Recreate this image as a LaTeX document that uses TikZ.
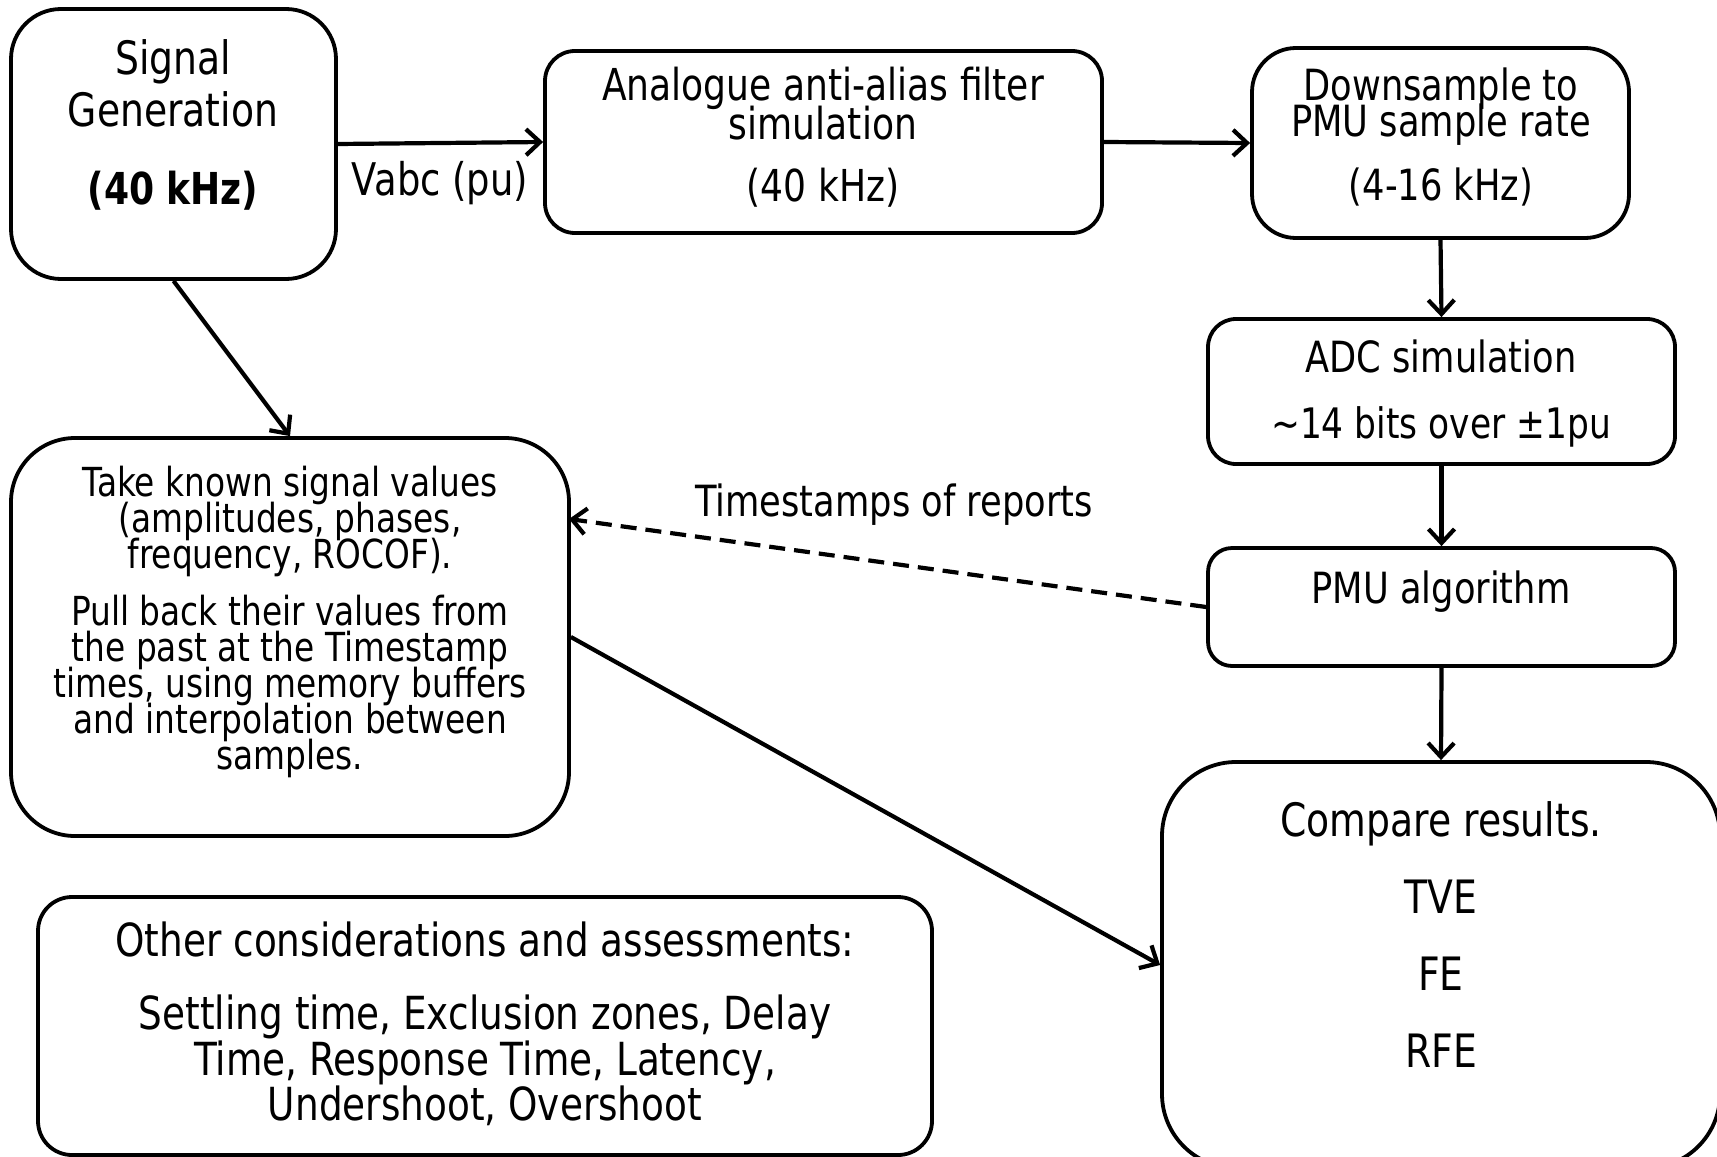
\documentclass[tikz,border=0pt]{standalone}
\usepackage{fontspec}
\setmainfont{DejaVu Sans}[FakeStretch=0.82]
\usetikzlibrary{arrows.meta,fit}
\begin{document}
\begin{tikzpicture}[x=0.5pt,y=-0.5pt,
  box/.style={draw, line width=1.9pt, inner sep=0pt},
  arr/.style={line width=2.1pt, -{Straight Barb[length=7pt,width=13pt]}},
  dasharr/.style={arr, dash pattern=on 8pt off 4.5pt},
  txt/.style={align=center, inner sep=0pt},
  fA/.style={font={\fontsize{23pt}{26pt}\selectfont\lineskiplimit-100pt}},
  fB/.style={font={\fontsize{22pt}{19.5pt}\selectfont\lineskiplimit-100pt}},
  fC/.style={font={\fontsize{21.5pt}{18pt}\selectfont\lineskiplimit-100pt}},
  fD/.style={font={\fontsize{21.5pt}{20pt}\selectfont\lineskiplimit-100pt}},
  fE/.style={font={\fontsize{23pt}{38.5pt}\selectfont\lineskiplimit-100pt}},
  fF/.style={font={\fontsize{20pt}{18pt}\selectfont\lineskiplimit-100pt}},
  fG/.style={font={\fontsize{22.8pt}{22.75pt}\selectfont\lineskiplimit-100pt}},
  fH/.style={font={\fontsize{22.5pt}{20pt}\selectfont}}]
\useasboundingbox (0,0) rectangle (1717,1156);
\clip (0,0) rectangle (1717,1156);
\fill[white] (0,0) rectangle (1717,1156);

% boxes
\node[box, rounded corners=25pt, fit={(11,9)(336,279)}] (sg) {};
\node[box, rounded corners=15pt, fit={(545,51)(1102,233)}] (filt) {};
\node[box, rounded corners=22pt, fit={(1252,48)(1629,238)}] (ds) {};
\node[box, rounded corners=14pt, fit={(1208,319)(1675,464)}] (adc) {};
\node[box, rounded corners=12pt, fit={(1208,548)(1675,666)}] (pmu) {};
\node[box, rounded corners=37pt, fit={(1162,762)(1720,1168)}] (cmp) {};
\node[box, rounded corners=32pt, fit={(11,438)(569,836)}] (take) {};
\node[box, rounded corners=17pt, fit={(38,897)(932,1155)}] (oth) {};

% texts
\node[txt, fA] (sgT) at (173,125) {Signal\\Generation\\[13pt]{\fontsize{22pt}{26pt}\selectfont\bfseries (40 kHz)}};
\node[txt, fB] (filtT) at (823,137) {Analogue anti-alias filter\\simulation\\[11.5pt](40 kHz)};
\node[txt, fC] (dsT) at (1441,137) {Downsample to\\PMU sample rate\\[14pt](4-16 kHz)};
\node[txt, fD] (adcT) at (1441,394) {ADC simulation\\[13pt]{\fontsize{21pt}{20pt}\selectfont\textasciitilde 14 bits over ±1pu}};
\node[txt, fD] (pmuT) at (1441,592) {PMU algorithm};
\node[txt, fE] (cmpT) at (1441,935) {Compare results.\\TVE\\FE\\RFE};
\node[txt, fF] (takeT) at (290,622) {Take known signal values\\(amplitudes, phases,\\frequency, ROCOF).\\[10.5pt]Pull back their values from\\the past at the Timestamp\\times, using memory buffers\\and interpolation between\\samples.};
\node[txt, fG] (othT) at (485,1024) {Other considerations and assessments:\\[13.75pt]Settling time, Exclusion zones, Delay\\Time, Response Time, Latency,\\Undershoot, Overshoot};
\node[txt, fH] (vabc) at (440,183) {Vabc (pu)};
\node[txt, fD] (tsl) at (894,505) {Timestamps of reports};

% connectors
\coordinate (tin) at (569,519);
\draw[arr] (sg.east) -- (filt.west);
\draw[arr] (filt.east) -- (ds.west);
\draw[arr] (ds.south) -- (adc.north);
\draw[arr] (adc.south) -- (pmu.north);
\draw[arr] (pmu.south) -- (cmp.north);
\draw[arr] (sg.south) -- (take.north);
\draw[dasharr] (pmu.west) -- (tin);
\draw[arr] (take.east) -- (cmp.west);
\end{tikzpicture}
\end{document}
